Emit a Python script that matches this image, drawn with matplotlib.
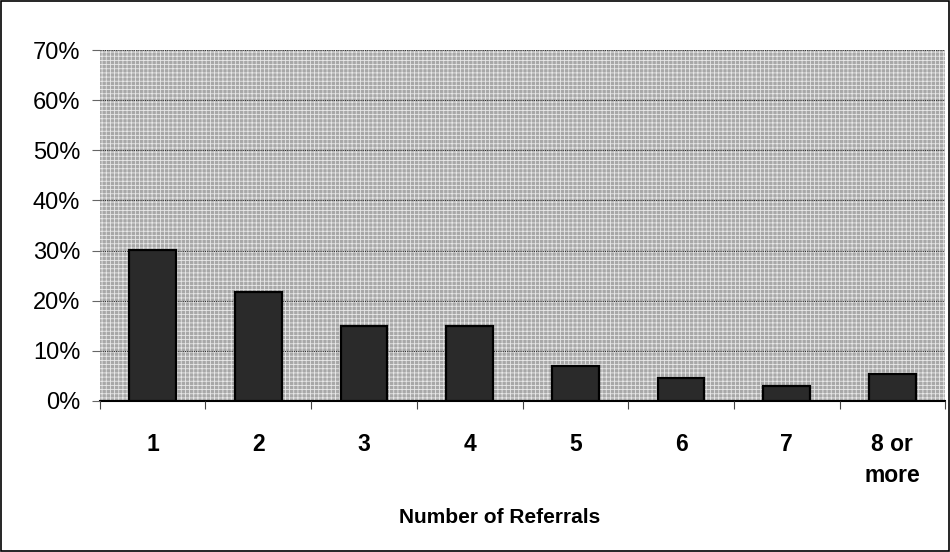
import matplotlib
matplotlib.use("Agg")
import matplotlib.pyplot as plt
from matplotlib.patches import Rectangle
import numpy as np

categories = ["1", "2", "3", "4", "5", "6", "7", "8 or\nmore"]
values = [30.2, 21.8, 15.0, 15.0, 6.9, 4.6, 3.0, 5.4]
yticks = [0, 10, 20, 30, 40, 50, 60, 70]
ytick_labels = ["0%", "10%", "20%", "30%", "40%", "50%", "60%", "70%"]
xlabel = "Number of Referrals"

plt.rcParams['font.family'] = ['Liberation Sans', 'DejaVu Sans']
plt.rcParams['hatch.linewidth'] = 0.6

fig = plt.figure(figsize=(9.5, 5.52), dpi=100)
fig.patch.set_facecolor('white')
fig.patches.append(Rectangle((0.001, 0.001), 0.998, 0.997, transform=fig.transFigure,
                             fill=False, edgecolor='black', linewidth=1.2))

ax = fig.add_axes([0.105, 0.2736, 0.89, 0.6358])
ax.set_facecolor('#a8a8a8')
bg = Rectangle((0, 0), 1, 1, transform=ax.transAxes, facecolor='none',
               edgecolor='#e8e8e8', hatch='++++', linewidth=0, zorder=0)
ax.add_patch(bg)

x = np.arange(len(categories))
ax.bar(x, values, width=0.44, color='#2a2a2a', edgecolor='black', linewidth=1.6, zorder=3)

ax.set_xlim(-0.5, len(categories) - 0.5)
ax.set_ylim(0, 70)
ax.set_yticks(yticks)
ax.set_yticklabels(ytick_labels, fontsize=17)
ax.yaxis.grid(True, color='#333333', linestyle=(0, (1, 1)), linewidth=0.8, zorder=1)
ax.set_axisbelow(False)

ax.set_xticks(x)
ax.set_xticklabels(categories, fontsize=16.5, fontweight='bold', linespacing=1.45, va='top')
ax.tick_params(axis='x', which='major', length=0, pad=23)
ax.set_xticks(np.arange(-0.5, len(categories)), minor=True)
ax.tick_params(axis='x', which='minor', length=6, width=0.8, color='#444444', direction='out')
ax.tick_params(axis='y', length=6, width=0.8, color='#666666', pad=8)

for s in ['top', 'right', 'left']:
    ax.spines[s].set_visible(False)
ax.spines['bottom'].set_linewidth(1.5)
ax.spines['bottom'].set_color('black')

ax.set_xlabel(xlabel, fontsize=15, fontweight='bold')
ax.xaxis.set_label_coords(0.473, -0.305)

fig.savefig('out.png', dpi=100)
